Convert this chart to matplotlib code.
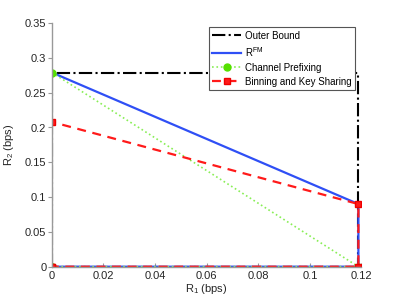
import matplotlib.pyplot as plt
from matplotlib.ticker import FuncFormatter

plt.rcParams['font.family'] = ['Liberation Sans', 'DejaVu Sans']
plt.rcParams['mathtext.fontset'] = 'custom'
plt.rcParams['mathtext.rm'] = 'Liberation Sans'
plt.rcParams['mathtext.it'] = 'Liberation Sans:italic'

# rate region corners (bps)
r1_max = 0.1188
r2_max = 0.279
r2_corner = 0.090
r2_bks = 0.208

outer_r1 = [0, 0, r1_max, r1_max, 0]
outer_r2 = [0, r2_max, r2_max, 0, 0]
fm_r1 = [0, 0, r1_max, r1_max, 0]
fm_r2 = [0, r2_max, r2_corner, 0, 0]
cp_r1 = [0, 0, r1_max, 0]
cp_r2 = [0, r2_max, 0, 0]
bks_r1 = [0, 0, r1_max, r1_max, 0]
bks_r2 = [0, r2_bks, r2_corner, 0, 0]

xticks = [0, 0.02, 0.04, 0.06, 0.08, 0.1, 0.12]
yticks = [0, 0.05, 0.1, 0.15, 0.2, 0.25, 0.3, 0.35]

fig = plt.figure(figsize=(3.99, 3.0), dpi=100)
ax = fig.add_axes([0.130, 0.111, 0.776, 0.812])

ax.plot(outer_r1, outer_r2, color='black', linestyle='-.', linewidth=1.5, label='Outer Bound')
ax.plot(fm_r1, fm_r2, color='#2f4ff5', linestyle='-', linewidth=1.6, label=r'R$^{\mathrm{FM}}$')
ax.plot(cp_r1, cp_r2, color='#88ee55', linestyle=':', linewidth=1.2, marker='o',
        markersize=5, markerfacecolor='#55e000', markeredgecolor='#55e000', label='Channel Prefixing')
ax.plot(bks_r1, bks_r2, color='#ff1a1a', linestyle='--', linewidth=1.6, dashes=(4, 3), marker='s',
        markersize=5, markerfacecolor='#ff1a1a', markeredgecolor='#ee0000', label='Binning and Key Sharing')

ax.set_xlim(0, 0.12)
ax.set_ylim(0, 0.35)
ax.set_xticks(xticks)
ax.set_yticks(yticks)
ax.xaxis.set_major_formatter(FuncFormatter(lambda v, p: '%g' % round(v, 4)))
ax.yaxis.set_major_formatter(FuncFormatter(lambda v, p: '%g' % round(v, 4)))

for side in ['top', 'right']:
    ax.spines[side].set_visible(False)
for side in ['left', 'bottom']:
    ax.spines[side].set_color('#999999')
    ax.spines[side].set_linewidth(1.0)
ax.tick_params(axis='x', direction='in', length=3, labelsize=8, colors='#999999', labelcolor='#262626', pad=3)
ax.tick_params(axis='y', direction='out', length=3, labelsize=8, colors='#999999', labelcolor='#262626', pad=1)

ax.set_xlabel(r'R$_1$ (bps)', fontsize=8, color='#262626', labelpad=1)
ax.set_ylabel(r'R$_2$ (bps)', fontsize=8, color='#262626', labelpad=6)

leg = ax.legend(loc='upper right', bbox_to_anchor=(0.98, 0.983), fontsize=7, fancybox=False,
                framealpha=1, edgecolor='#555555', borderpad=0.35, labelspacing=0.42,
                handlelength=3.0, handletextpad=0.4, borderaxespad=0)
leg.get_frame().set_linewidth(0.8)

fig.savefig('out.png', dpi=100)
